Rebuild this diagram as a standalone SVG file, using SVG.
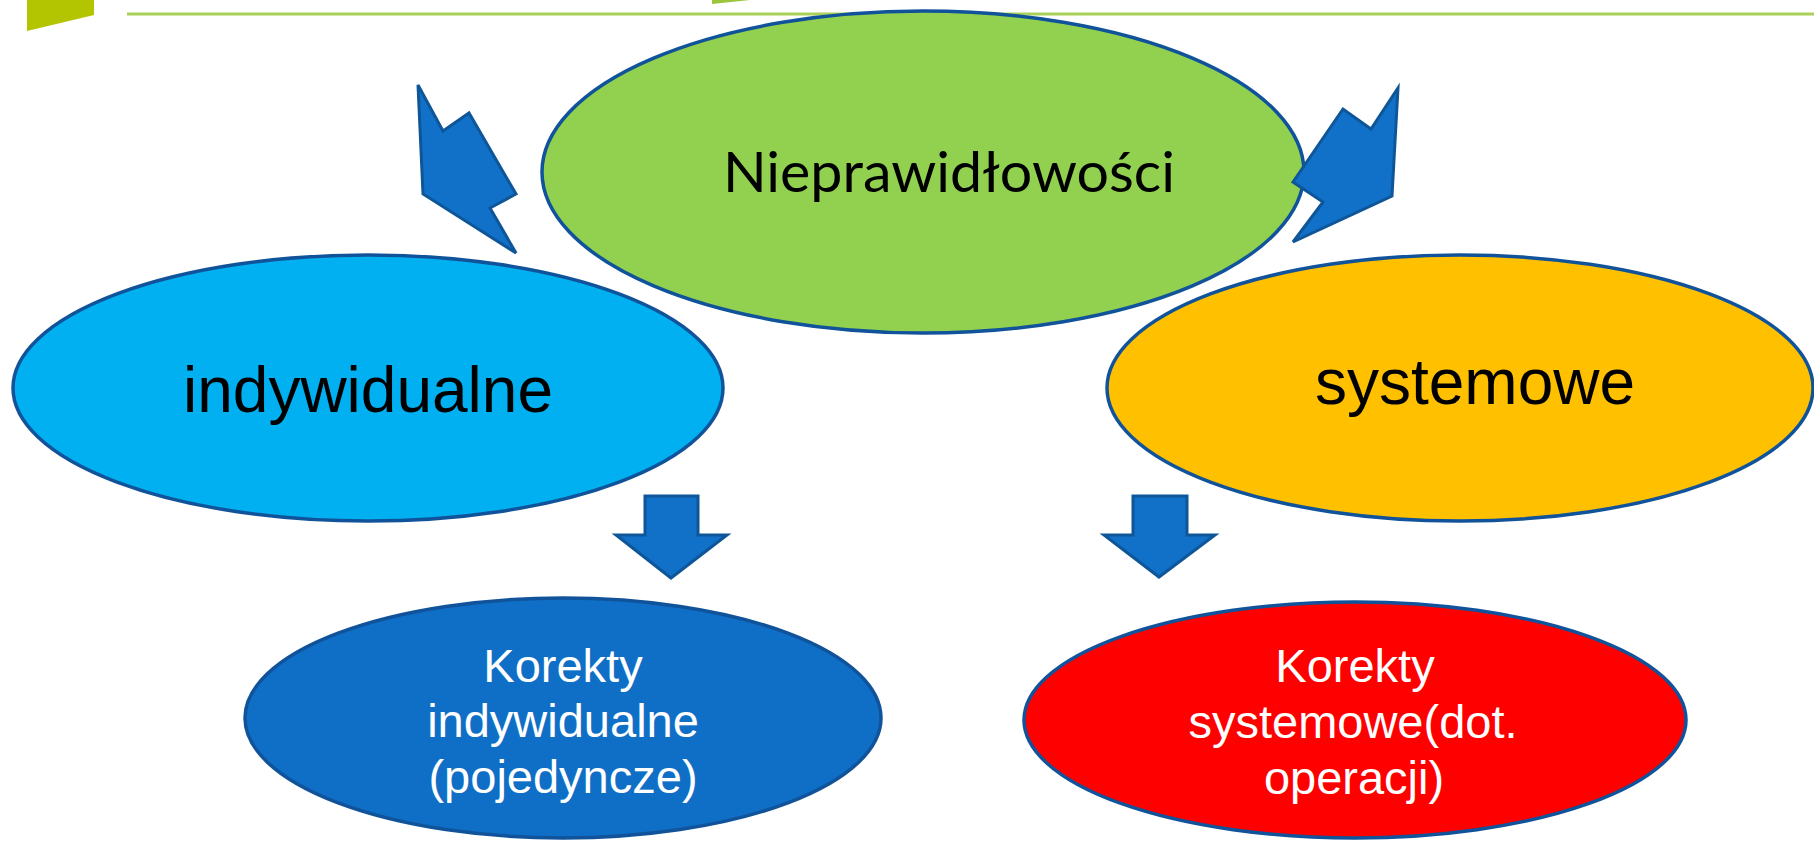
<svg xmlns="http://www.w3.org/2000/svg" width="1814" height="841" viewBox="0 0 1814 841">
<style>
.node { stroke: #10539A; stroke-width: 3.5; }
.arrow { fill: #1170C8; stroke: #0E5698; stroke-width: 3; stroke-linejoin: miter; }
.big { font-family: "Liberation Sans", Arial, sans-serif; font-size: 64px; fill: #000; text-anchor: middle; }
.small { font-family: "Liberation Sans", Arial, sans-serif; font-size: 47px; fill: #fff; text-anchor: middle; }
.title { font-family: Lato, "Open Sans", sans-serif; font-size: 57px; fill: #000; text-anchor: middle; }
</style>
<rect width="1814" height="841" fill="#fff"/>
<g id="decor">
<polygon points="27,0 94,0 94,15 27,31" fill="#B3C500"/>
<polygon points="712,0 750,0 712,4" fill="#9BC53D"/>
<line x1="127" y1="14" x2="1814" y2="14" stroke="#A9D15A" stroke-width="3"/>
</g>
<g id="node-nieprawidlowosci">
<ellipse class="node" cx="923" cy="172" rx="381" ry="161" fill="#92D050"/>
<text class="title" x="949" y="192" textLength="452" lengthAdjust="spacingAndGlyphs">Nieprawidłowości</text>
</g>
<g id="node-indywidualne">
<ellipse class="node" cx="368" cy="388" rx="355" ry="133" fill="#00B0F0"/>
<text class="big" x="368" y="412">indywidualne</text>
</g>
<g id="node-systemowe">
<ellipse class="node" cx="1460" cy="388" rx="353" ry="133" fill="#FFC000"/>
<text class="big" x="1475" y="404">systemowe</text>
</g>
<g id="node-korekty-indywidualne">
<ellipse class="node" cx="563" cy="718" rx="318" ry="120" fill="#0F6FC6"/>
<text class="small" x="563" y="682">Korekty</text>
<text class="small" x="563" y="737">indywidualne</text>
<text class="small" x="563" y="793">(pojedyncze)</text>
</g>
<g id="node-korekty-systemowe">
<ellipse class="node" cx="1355" cy="720" rx="331" ry="118" fill="#FF0000"/>
<text class="small" x="1355" y="682">Korekty</text>
<text class="small" x="1353" y="738">systemowe(dot.</text>
<text class="small" x="1354" y="794">operacji)</text>
</g>
<g id="connectors">
<polygon class="arrow" points="418,85 443,131 469,113 516,194 490,208 516,253 423,194"/>
<polygon class="arrow" points="1398,88 1392,196 1293,242 1323,202 1293,182 1343,109 1371,129"/>
<polygon class="arrow" points="645,496 698,496 698,535 727,535 671,578 616,535 645,535"/>
<polygon class="arrow" points="1133,496 1187,496 1187,535 1215,535 1159,577 1104,535 1133,535"/>
</g>
</svg>
